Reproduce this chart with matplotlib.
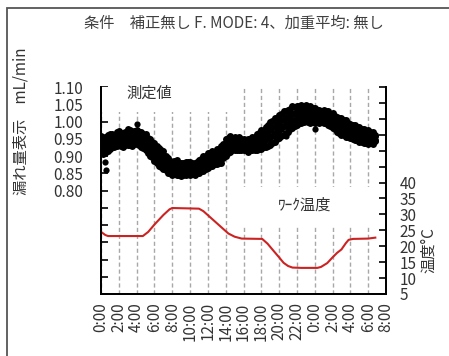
import matplotlib
matplotlib.use("Agg")
import matplotlib.pyplot as plt
from matplotlib.patches import Rectangle
import numpy as np

plt.rcParams['font.family'] = ['Noto Sans CJK JP', 'DejaVu Sans']

# 測定値 (mL/min) : 0.25h 刻み、点群の上側から下側まで4列
t_leak = np.arange(0, 30.76, 0.25)
leak_r1 = [.958, .953, .955, .960, .965, .963, .957, .970, .972, .966, .964, .969, .977, .974, .967, .972,
           .976, .970, .969, .963, .964, .953, .949, .941, .939, .929, .924, .916, .914, .901, .894, .886,
           .884, .885, .889, .881, .879, .880, .884, .882, .884, .880, .879, .882, .889, .891, .899, .901,
           .909, .909, .914, .913, .919, .921, .929, .936, .949, .951, .959, .953, .954, .952, .954, .949,
           .949, .946, .949, .949, .954, .956, .964, .966, .974, .976, .984, .989, .999, 1.001, 1.009, 1.011,
           1.019, 1.021, 1.029, 1.029, 1.034, 1.036, 1.044, 1.041, 1.044, 1.044, 1.049, 1.046, 1.049, 1.043, 1.044, 1.039,
           1.039, 1.033, 1.034, 1.031, 1.034, 1.029, 1.029, 1.023, 1.024, 1.016, 1.014, 1.009, 1.009, 1.003, 1.004, .996,
           .994, .989, .989, .983, .984, .979, .979, .973, .974, .969, .969, .962]
leak_r2 = [.945, .941, .936, .948, .947, .954, .946, .953, .961, .957, .949, .958, .965, .957, .958, .957,
           .963, .960, .952, .953, .946, .942, .931, .929, .919, .916, .904, .903, .894, .890, .877, .877,
           .869, .875, .872, .871, .864, .871, .869, .873, .869, .872, .866, .874, .874, .882, .882, .891,
           .892, .899, .897, .904, .902, .910, .911, .925, .931, .940, .941, .944, .939, .941, .939, .942,
           .936, .939, .934, .941, .939, .946, .946, .954, .954, .962, .962, .972, .974, .983, .984, .993,
           .994, 1.003, 1.004, 1.012, 1.011, 1.020, 1.021, 1.026, 1.024, 1.031, 1.029, 1.034, 1.031, 1.032, 1.026, 1.028,
           1.022, 1.024, 1.019, 1.023, 1.020, 1.021, 1.014, 1.014, 1.007, 1.006, .997, .998, .991, .992, .986, .986,
           .977, .979, .972, .974, .967, .970, .963, .965, .959, .962, .956, .957]
leak_r3 = [.925, .921, .924, .930, .937, .936, .939, .944, .944, .940, .941, .942, .945, .948, .942, .949,
           .948, .943, .943, .934, .934, .922, .919, .909, .906, .894, .891, .882, .881, .870, .868, .860,
           .861, .858, .863, .856, .856, .855, .861, .857, .860, .856, .859, .858, .866, .866, .873, .874,
           .883, .881, .888, .886, .893, .892, .899, .905, .919, .920, .929, .926, .931, .927, .930, .926,
           .929, .924, .926, .925, .931, .929, .934, .933, .941, .941, .948, .948, .956, .957, .966, .967,
           .976, .977, .986, .986, .994, .995, 1.004, 1.004, 1.011, 1.010, 1.016, 1.013, 1.019, 1.012, 1.014, 1.010,
           1.013, 1.008, 1.011, 1.007, 1.010, 1.005, 1.006, .998, .998, .989, .988, .980, .979, .972, .974, .967,
           .968, .961, .963, .956, .958, .952, .954, .948, .951, .946, .949, .947]
leak_r4 = [.913, .906, .909, .915, .921, .926, .925, .930, .931, .928, .926, .931, .932, .933, .930, .935,
           .936, .933, .926, .923, .916, .910, .901, .896, .886, .880, .871, .868, .861, .858, .851, .850,
           .846, .848, .846, .844, .843, .845, .846, .848, .846, .848, .846, .850, .851, .856, .856, .863,
           .866, .870, .871, .876, .876, .880, .881, .893, .901, .908, .911, .916, .916, .918, .916, .918,
           .916, .916, .911, .916, .916, .918, .916, .920, .921, .926, .926, .930, .931, .938, .941, .948,
           .951, .958, .961, .966, .971, .978, .981, .988, .991, .996, .996, 1.000, 1.001, 1.000, .996, .998,
           .996, .998, .996, .998, .996, .996, .991, .988, .981, .978, .971, .968, .961, .960, .956, .956,
           .951, .950, .946, .946, .941, .942, .938, .939, .936, .938, .936, .943]

# 外れ値
t_leak_out = [0.45, 0.6, 4.0, 20.75, 24.0]
leak_out = [0.883, 0.858, 0.993, 0.958, 0.978]

# ワーク温度 (℃)
t_temp = [0.0, 0.5, 0.8, 4.7, 5.3, 6.0, 7.0, 7.7, 8.0, 11.0, 11.5, 12.5, 13.5, 14.3, 15.0, 15.8, 18.1,
          18.7, 19.3, 20.0, 20.5, 21.0, 21.5, 22.5, 24.3, 24.7, 25.4, 26.0, 26.5, 27.0, 27.5, 27.8, 28.3,
          30.0, 30.8]
temp = [24.5, 23.5, 23.2, 23.2, 24.5, 26.8, 29.8, 31.6, 32.0, 31.8, 31.0, 28.5, 26.0, 24.0, 23.0, 22.4, 22.3,
        20.8, 18.8, 16.5, 14.8, 13.8, 13.3, 13.2, 13.2, 13.5, 14.7, 16.5, 17.9, 19.0, 21.0, 22.0, 22.3,
        22.4, 22.7]

x_hours = list(range(0, 33, 2))
x_labels = ["0:00", "2:00", "4:00", "6:00", "8:00", "10:00", "12:00", "14:00", "16:00", "18:00",
            "20:00", "22:00", "0:00", "2:00", "4:00", "6:00", "8:00"]
left_ticks = [0.50, 0.55, 0.60, 0.65, 0.70, 0.75, 0.80, 0.85, 0.90, 0.95, 1.00, 1.05, 1.10]
left_labels = ["", "", "", "", "", "", "0.80", "0.85", "0.90", "0.95", "1.00", "1.05", "1.10"]
right_ticks = [5, 10, 15, 20, 25, 30, 35, 40, 45, 50, 55, 60, 65, 70]
right_labels = ["5", "10", "15", "20", "25", "30", "35", "40", "", "", "", "", "", ""]

txt = '#333333'
fs = 11

fig = plt.figure(figsize=(4.49, 3.56), dpi=100)
ax = fig.add_axes([101 / 449, 1 - 294 / 356, 285 / 449, 207 / 356])
ax2 = ax.twinx()

# 測定値の点群
for row in (leak_r1, leak_r2, leak_r3, leak_r4):
    ax.plot(t_leak, row, 'o', color='black', ms=5, mew=0, zorder=3)
ax.plot(t_leak_out, leak_out, 'o', color='black', ms=4.5, mew=0, zorder=3)

ax.set_xlim(0, 32)
ax.set_ylim(0.50, 1.10)
ax.set_xticks(x_hours)
ax.set_xticklabels(x_labels, rotation=90, fontsize=fs, color=txt)
ax.set_yticks(left_ticks)
ax.set_yticklabels(left_labels, fontsize=fs, color=txt)
ax.tick_params(axis='x', length=0, pad=6)
ax.tick_params(axis='y', direction='in', length=5, width=1.2, pad=13)
ax.set_axisbelow(True)
ax.grid(axis='x', color='#a8a8a8', linestyle=(0, (3, 2)), lw=1.0)
ax.grid(axis='y', visible=False)

# ラベル部分はグリッドを白で抜く
ax.add_patch(Rectangle((0.005, 1 - 25 / 207), (235 - 101) / 285, 25 / 207,
                       transform=ax.transAxes, fc='white', ec='none', zorder=1))
ax.add_patch(Rectangle(((235 - 101) / 285, (294 - 227) / 207), 0.52, 40 / 207,
                       transform=ax.transAxes, fc='white', ec='none', zorder=1))

# ワーク温度
ax2.plot(t_temp, temp, color='#cc2222', lw=1.5)
ax2.set_ylim(5, 70)
ax2.set_yticks(right_ticks)
ax2.set_yticklabels(right_labels, fontsize=fs, color=txt)
ax2.tick_params(axis='y', direction='in', length=5, width=1.2, pad=10)

for a in (ax, ax2):
    a.spines['top'].set_visible(False)
    for s in ('left', 'right', 'bottom'):
        a.spines[s].set_linewidth(1.3)

ax.text(0.17, 0.97, '測定値', transform=ax.transAxes, ha='center', va='center', fontsize=fs, color=txt)
ax.text((305 - 101) / 285, (294 - 205) / 207, 'ﾜｰｸ温度', transform=ax.transAxes,
        ha='center', va='center', fontsize=fs, color=txt)

fig.text(234 / 449, 1 - 23 / 356, '条件\u3000補正無し F. MODE: 4、加重平均: 無し',
         ha='center', va='center', fontsize=fs, color='#404040')
fig.text(21 / 449, 1 - 121 / 356, '漏れ量表示\u3000mL/min', rotation=90,
         ha='center', va='center', fontsize=fs, color=txt)
fig.text(429 / 449, 1 - 250 / 356, '温度°C', rotation=90,
         ha='center', va='center', fontsize=fs, color=txt)

# 外枠
fig.patches.append(Rectangle((7 / 449, -0.1), 1.2, 1.1 - 8 / 356, transform=fig.transFigure,
                             fill=False, ec='#555555', lw=1.3))

fig.savefig('out.png', dpi=100)
